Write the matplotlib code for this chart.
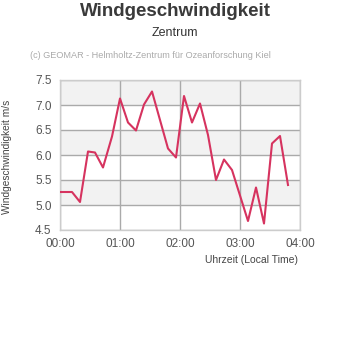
import numpy as np
import matplotlib
matplotlib.use("Agg")
import matplotlib.pyplot as plt

# minuten seit 00:00 und windgeschwindigkeit (m/s)
minuten = [0, 12, 20, 28, 35, 43, 52, 60, 68, 76, 84, 92, 100, 108, 116,
           124, 132, 140, 148, 156, 164, 172, 180, 188, 196, 204, 212, 220, 228]
wind = [5.26, 5.26, 5.06, 6.07, 6.05, 5.75, 6.37, 7.13, 6.65, 6.49, 7.01, 7.27,
        6.70, 6.13, 5.95, 7.18, 6.65, 7.03, 6.40, 5.50, 5.91, 5.70, 5.19, 4.68,
        5.35, 4.63, 6.23, 6.38, 5.40]
x_ticks = [0, 60, 120, 180, 240]
x_labels = ["00:00", "01:00", "02:00", "03:00", "04:00"]
y_ticks = [4.5, 5.0, 5.5, 6.0, 6.5, 7.0, 7.5]

plt.rcParams['font.family'] = ['Liberation Sans', 'DejaVu Sans']

fig = plt.figure(figsize=(3.5, 3.5), dpi=100)
ax = fig.add_axes([60/350, 1 - 230/350, 240/350, 150/350])

# abwechselnde hintergrundbaender
for i in range(len(y_ticks) - 1):
    if i % 2 == 1:
        ax.axhspan(y_ticks[i], y_ticks[i+1], color='#f2f2f2', zorder=0, lw=0)

ax.plot(minuten, wind, color='#d6335f', linewidth=1.5, zorder=3)

ax.set_xlim(0, 240)
ax.set_ylim(4.5, 7.5)
ax.set_xticks(x_ticks)
ax.set_xticklabels(x_labels)
ax.set_yticks(y_ticks)
ax.set_yticklabels([f"{v:.1f}" for v in y_ticks])
ax.grid(True, color='#aaaaaa', linewidth=1, zorder=1)
ax.set_axisbelow(True)
ax.tick_params(length=0, labelsize=8.5, colors='#555555')
ax.tick_params(axis='x', pad=6)
ax.tick_params(axis='y', pad=6)
for s in ax.spines.values():
    s.set_color('#cccccc')
    s.set_linewidth(1)

fig.text(0.5, 1 - 12/350, "Windgeschwindigkeit", ha='center', va='center',
         fontsize=13.5, fontweight='bold', color='#3a3a3a')
fig.text(0.5, 1 - 33/350, "Zentrum", ha='center', va='center',
         fontsize=9, color='#333333')
fig.text(30/350, 1 - 55/350, "(c) GEOMAR - Helmholtz-Zentrum für Ozeanforschung Kiel",
         ha='left', va='center', fontsize=6.6, color='#aaaaaa')
fig.text(7/350, 1 - 157/350, "Windgeschwindigkeit m/s", rotation=90,
         ha='center', va='center', fontsize=7.3, color='#444444')
fig.text(298/350, 1 - 260/350, "Uhrzeit (Local Time)", ha='right', va='center',
         fontsize=7.5, color='#444444')

fig.savefig("out.png", dpi=100, facecolor='white')
